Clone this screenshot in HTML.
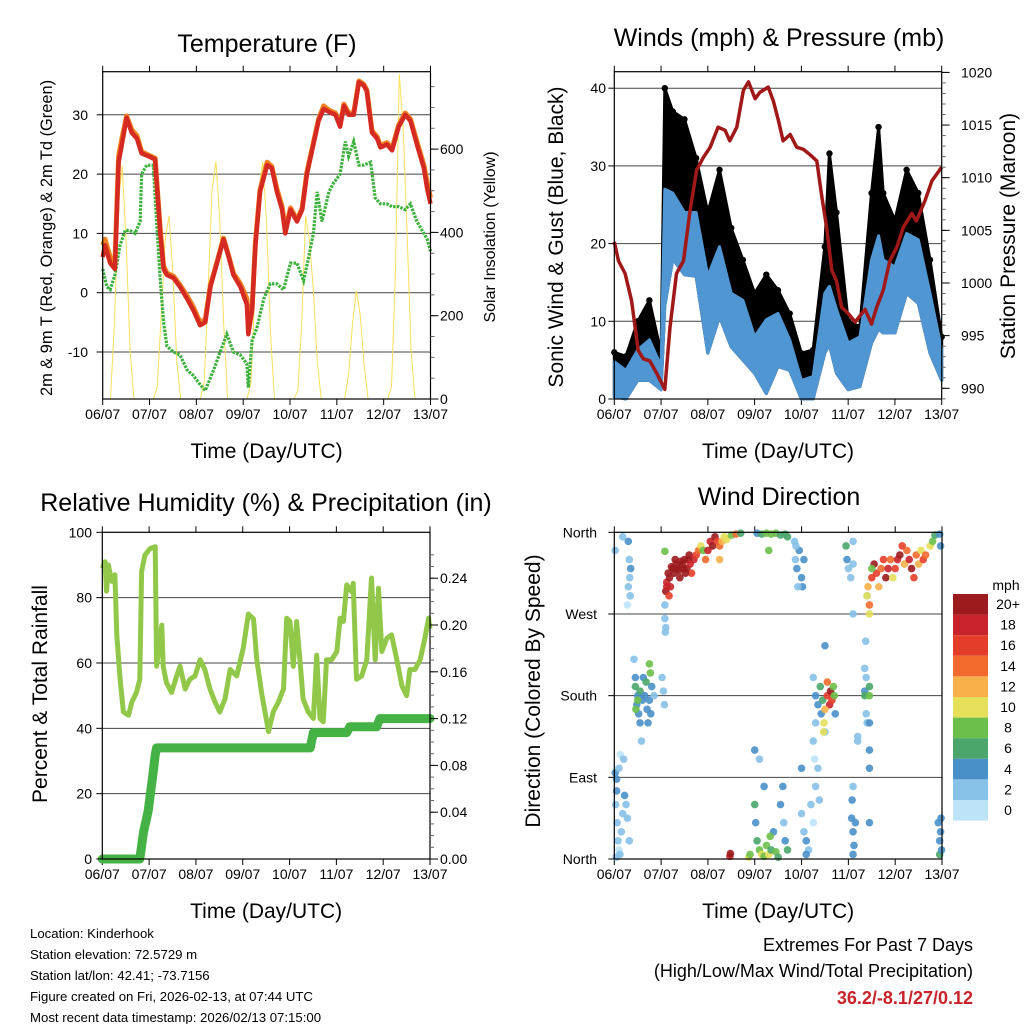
<!DOCTYPE html>
<html><head><meta charset="utf-8">
<style>
html,body{margin:0;padding:0;background:#fff;}
svg text{font-family:"Liberation Sans",Arial,sans-serif;fill:#000;}
</style></head>
<body>
<svg id="chart" width="1024" height="1024" viewBox="0 0 1024 1024" xmlns="http://www.w3.org/2000/svg">
<rect x="0" y="0" width="1024" height="1024" fill="#fff"/>
<text x="267" y="52" font-size="25" text-anchor="middle">Temperature (F)</text>
<text x="779" y="46" font-size="25" text-anchor="middle">Winds (mph) &amp; Pressure (mb)</text>
<text x="266" y="511" font-size="25" text-anchor="middle">Relative Humidity (%) &amp; Precipitation (in)</text>
<text x="779" y="505" font-size="25" text-anchor="middle">Wind Direction</text>
<g id="layer"></g>
<g font-size="13.2">
<text x="30" y="938">Location: Kinderhook</text>
<text x="30" y="959">Station elevation: 72.5729 m</text>
<text x="30" y="980">Station lat/lon: 42.41; -73.7156</text>
<text x="30" y="1001">Figure created on Fri, 2026-02-13, at 07:44 UTC</text>
<text x="30" y="1022">Most recent data timestamp: 2026/02/13 07:15:00</text>
</g>
<text x="973" y="951" font-size="18" text-anchor="end">Extremes For Past 7 Days</text>
<text x="973" y="977" font-size="18" text-anchor="end">(High/Low/Max Wind/Total Precipitation)</text>
<text x="973" y="1004" font-size="18" font-weight="bold" text-anchor="end" style="fill:#c8232a">36.2/-8.1/27/0.12</text>
</svg>
<script>
// ---------- DATA ----------
const dayLabels = ["06/07","07/07","08/07","09/07","10/07","11/07","12/07","13/07"];
const tempDays = [0,.05,.16,.26,.34,.41,.51,.62,.73,.83,.98,1.12,1.23,1.30,1.37,1.51,1.65,1.80,1.94,2.08,2.19,2.30,2.44,2.58,2.69,2.79,2.94,3.08,3.11,3.19,3.26,3.36,3.51,3.61,3.72,3.83,3.90,4.01,4.15,4.26,4.36,4.50,4.61,4.72,4.83,4.97,5.07,5.15,5.25,5.36,5.47,5.57,5.64,5.75,5.86,5.93,6.07,6.18,6.32,6.46,6.57,6.71,6.86,6.93,7.0];
const temp2m = [6,8,5,4,22,25,29.5,27,26,23.5,23,22.5,10,4,3,2.5,1,-1,-3,-5.5,-5,1,5,9,6,3,1,-2,-7,-3,8,17,21.5,21,17,14,10,14,12,14,20,25,29,31,30.5,30,28,31.5,30,30,35.5,35,34,27,26,24.5,25,24,28,30,29,25,21,17.5,15];
const temp9m = [8,9,6,5,23,26,29.8,27.5,26.5,23.8,23.2,22.7,10.5,4.5,3.3,2.8,1.3,-0.5,-2.5,-5,-4.5,1.3,5.2,9.2,6.2,3.3,1.5,-1,-5,-2.5,8.5,17.3,22,21.3,17.5,14.5,10.5,14.3,12.3,14.3,20.3,25.3,29.3,31.5,30.8,30.3,28.3,31.8,30.3,30.3,35.7,35.2,34.2,27.3,26.3,24.8,25.3,24.3,28.3,30.3,29.3,25.5,21.5,18.5,16];
const dewDays = [0,.09,.16,.26,.37,.48,.58,.69,.80,.83,.94,1.08,1.15,1.23,1.30,1.37,1.51,1.65,1.80,1.94,2.08,2.19,2.37,2.51,2.65,2.79,2.94,3.08,3.11,3.19,3.29,3.44,3.58,3.72,3.86,4.01,4.15,4.29,4.40,4.50,4.58,4.68,4.83,4.93,5.07,5.18,5.25,5.36,5.47,5.57,5.72,5.82,5.93,6.07,6.18,6.32,6.46,6.57,6.71,6.86,6.93,7.0];
const dew2m = [4,1,0.5,3,8,10.5,10.5,10,12,20,21.5,21.5,12,2,-5,-9,-10,-10.5,-13,-14,-15.5,-16.5,-13,-10,-7,-10,-10.5,-12,-16,-8,-6,-1,1.5,1.5,0.5,5,5,2,6,10,17,12,17,18.5,20,25.5,23,25.5,21.5,21.5,22,16,15,15,14.5,14.5,14,15,12,10,9,7];
// solar insolation, every 2 hours from 06/07 00Z
const solar = [0,0,0,180,470,560,380,120,0,0,0,0,
  0,0,30,200,380,440,300,90,0,0,0,0,
  0,0,40,260,500,570,430,180,0,0,0,0,
  0,0,40,260,500,570,420,160,0,0,0,0,
  0,0,20,180,440,380,260,90,0,0,0,0,
  0,0,0,60,180,260,200,80,0,0,0,0,
  0,0,30,300,780,650,400,120,0,0,0,0,0];
const windDays = [0,.25,.5,.75,1.0,1.08,1.25,1.5,1.75,2.0,2.25,2.5,2.75,3.0,3.25,3.5,3.75,4.0,4.25,4.5,4.6,4.75,5.0,5.25,5.5,5.65,5.75,6.0,6.25,6.5,6.75,7.0];
const windHi = [4.8,3.7,6.3,7.6,4.2,27,26.5,24,24,15.8,19.6,13.6,12.7,8,10.2,11,7.6,2.4,2.9,13.6,14.5,11.5,7.2,8,17.9,21,17.9,17,21.3,20.5,13.6,6.3];
const windLo = [0.3,0,2.4,2.4,1.2,12,18,16,15.8,5.9,10.6,6.7,5,3.3,0.7,4.2,3.7,0,0,5.9,7,3.3,1.2,1.6,7.2,9,8.5,8.5,13.6,12.3,5.9,2.4];
const gustHi = [6,5.5,10,12.7,5.9,40,37,36,31,24,29.5,22,17.9,13.6,16,14,11,5.9,6.3,19.6,31.6,24,10,9.3,26.5,35,26.5,23,29.5,26.5,17.9,8];
const presDays = [0,.09,.23,.37,.51,.62,.76,.91,1.08,1.19,1.33,1.48,1.62,1.76,1.90,2.05,2.22,2.37,2.47,2.62,2.76,2.87,3.01,3.11,3.29,3.40,3.51,3.61,3.76,3.90,4.04,4.18,4.33,4.43,4.54,4.65,4.75,4.86,5.00,5.15,5.36,5.50,5.61,5.75,5.89,6.04,6.18,6.36,6.46,6.64,6.79,7.0];
const pressure = [1003.9,1002.1,1000.9,998.3,993.6,992.8,992.6,991.4,989.9,995.8,1000.9,1002.1,1006.9,1010.7,1011.9,1012.9,1014.8,1014.5,1013.5,1014.8,1018.3,1019.1,1017.5,1018.1,1018.6,1017.3,1015.4,1013.5,1014.1,1012.9,1012.7,1012.2,1011.6,1008.4,1005.3,1001.2,1000.2,997.7,997.1,996.3,997.5,996.1,997.7,999.3,1002.1,1003.4,1005.3,1006.6,1005.9,1007.8,1009.7,1011.0];
const rhDays = [0,.06,.09,.13,.2,.27,.31,.38,.45,.56,.63,.73,.80,.84,.91,1.02,1.13,1.16,1.27,1.30,1.37,1.48,1.59,1.66,1.77,1.87,1.98,2.09,2.19,2.30,2.41,2.51,2.62,2.73,2.87,3.01,3.12,3.23,3.30,3.40,3.55,3.65,3.76,3.87,3.94,4.01,4.08,4.15,4.22,4.29,4.40,4.51,4.58,4.65,4.72,4.79,4.90,5.01,5.08,5.15,5.22,5.33,5.36,5.43,5.54,5.65,5.75,5.83,5.90,5.97,6.08,6.18,6.29,6.40,6.50,6.57,6.68,6.79,6.89,6.97,7.0];
const rh = [89,91,82,90,85,87,68.6,55,45,44,48,51,55,88,93,95,95.6,59,71.6,59,54,51,56,59,52,55,56,61,58,52,48,45,49,58,56,64.5,75,73.5,61,51,39,45,48,52,73.7,72.7,59,72.7,61,49,45,43,62.4,43,42,61,61,63.5,73.7,72.7,83.9,81.8,84.4,55,56,61,86,61,82.9,63.5,67.6,68.6,61,53,50,58,58,61,67.6,73.7,70.5];
const rainDays = [0,.80,.88,.98,1.09,1.13,1.16,4.44,4.51,5.22,5.29,5.86,5.93,7.0];
const rain = [0,0,.023,.041,.075,.089,.095,.095,.108,.108,.113,.113,.12,.12];
const dirDays = [0.02,0.05,0.03,0.06,0.08,0.1,0.04,0.12,0.15,0.18,0.22,0.25,0.28,0.32,0.1,0.13,0.2,0.05,
 0.02,0.18,0.3,0.32,0.33,0.3,0.28,0.35,0.34,
 0.45,0.5,0.48,0.55,0.6,0.65,0.7,0.75,0.8,0.85,0.78,0.72,0.52,0.55,0.58,0.62,0.68,0.75,0.77,0.42,0.45,1.02,1.05,1.07,0.46,0.5,
 1.08,1.08,1.09,1.1,1.08,
 1.1,1.12,1.15,1.2,1.25,1.3,1.35,1.4,1.45,1.5,1.55,1.6,1.7,1.75,1.8,1.85,1.9,2.0,2.05,2.1,2.15,2.2,2.25,2.3,2.35,2.4,2.5,2.6,2.7,1.95,2.25,1.65,
 1.18,1.22,1.28,1.32,1.38,1.42,1.48,1.52,1.58,1.62,1.12,1.17,
 3.05,3.15,3.25,3.35,3.45,3.55,3.65,3.7,3.3,
 3.85,3.87,3.9,3.95,4.0,4.02,3.92,3.88,4.05,
 2.87,2.9,3.0,3.02,3.05,3.1,3.15,3.2,3.25,3.3,3.35,3.4,3.45,3.5,3.55,3.6,3.62,3.65,3.1,3.2,3.0,3.7,3.33,2.47,2.48,
 4.0,4.05,4.1,4.15,4.2,4.25,4.3,4.35,4.38,4.0,4.1,
 4.25,4.3,4.35,4.4,4.45,4.42,4.5,4.3,4.25,4.28,4.55,4.6,4.62,4.65,4.5,4.48,4.47,4.55,4.68,4.7,4.72,4.5,
 4.95,4.97,5.0,5.05,5.1,5.1,5.1,5.4,5.37,5.35,5.38,5.35,5.38,5.4,5.35,5.45,5.45,5.45,5.45,5.45,5.08,5.07,5.1,5.12,5.15,5.1,5.1,5.45,5.2,5.2,
 5.4,5.42,5.45,5.5,5.55,5.6,5.65,5.7,5.75,5.8,5.85,5.9,6.0,6.05,6.1,6.15,6.2,6.25,6.3,6.35,6.4,6.45,6.5,6.55,6.6,6.65,6.75,6.8,6.85,5.95,5.5,5.45,
 6.92,6.95,6.97,6.95,6.99,6.98,6.95,6.97];
const dirDeg = [95,88,60,40,20,10,2,5,30,50,70,60,45,20,100,115,110,75,
 340,355,350,330,310,300,280,320,290,
 190,180,170,185,175,180,165,175,190,180,160,150,160,150,130,200,195,215,205,220,200,200,185,170,165,175,
 280,265,250,255,339,
 295,305,315,300,320,330,320,310,325,330,320,335,330,335,340,345,340,340,350,345,355,350,345,350,355,352,357,358,359,330,330,315,
 310,322,315,325,318,328,320,315,330,325,300,290,
 359,358,359,358,359,357,358,355,340,
 350,330,320,340,310,300,300,345,330,
 2,5,60,40,20,10,5,3,15,5,10,30,8,2,60,80,40,20,110,80,120,10,25,3,6,
 50,30,20,10,60,40,80,100,65,100,5,
 200,180,170,190,175,160,140,150,130,110,180,170,185,175,165,150,140,195,190,180,160,235,
 345,330,320,310,325,350,270,290,240,210,200,185,160,150,180,190,180,150,120,100,65,45,30,15,40,5,80,40,135,130,
 290,300,280,310,325,315,300,320,330,310,320,330,320,330,335,345,325,340,330,320,310,335,325,340,330,335,345,350,357,310,320,270,
 40,20,30,5,10,45,358,345];
const dirSpd = [3,3,2,1,1,0,2,1,2,1,3,2,1,2,1,0,2,4,
 1,2,3,2,2,1,0,3,1,
 5,4,4,6,4,3,4,3,3,2,4,3,4,3,2,3,6,7,7,1,3,2,1,2,7,7,
 2,1,2,1,7,
 20,18,20,18,20,20,20,20,20,20,20,20,18,16,14,10,8,18,18,20,20,16,14,12,10,10,8,14,6,14,12,16,
 20,20,20,20,20,20,20,20,20,18,18,16,
 4,6,7,8,7,6,5,6,7,
 2,2,3,3,4,3,1,2,4,
 10,8,6,4,6,8,10,8,8,10,6,4,8,6,4,4,2,4,2,3,4,6,7,18,20,
 2,1,3,2,1,0,1,1,2,4,4,
 1,3,4,5,6,4,1,1,1,0,16,18,20,16,12,10,10,14,8,8,4,3,
 5,3,2,2,2,1,1,1,2,2,1,3,2,1,6,6,7,4,4,4,4,4,4,4,4,4,1,4,1,2,
 10,12,14,16,20,16,12,14,16,20,18,14,16,18,20,16,12,14,18,20,16,14,12,10,16,14,10,8,6,10,8,10,
 4,4,3,5,4,4,3,4];
const speedBins = ["0","2","4","6","8","10","12","14","16","18","20+"];
const speedColors = ["#bde3f7","#87c1e8","#4a90c8","#4aa66a","#6cbf4a","#e5df5a","#f9b04a","#f26a2e","#e43e2a","#c8232a","#9b1b1e"];

// ---------- HELPERS ----------
const NS = "http://www.w3.org/2000/svg";
const layer = document.getElementById("layer");
function mk(tag, attrs, name, parent) {
  const el = document.createElementNS(NS, tag);
  for (const k in attrs) el.setAttribute(k, attrs[k]);
  
  
  (parent || layer).appendChild(el);
  return el;
}
function txt(x, y, s, size, anchor, name, extra) {
  const t = mk("text", Object.assign({x:x, y:y, "font-size":size, "text-anchor":anchor}, extra || {}), name);
  t.textContent = s;
  return t;
}
function pathFrom(xs, ys, fx, fy) {
  let d = "";
  for (let i = 0; i < xs.length; i++) d += (i ? "L" : "M") + fx(xs[i]).toFixed(1) + "," + fy(ys[i]).toFixed(1);
  return d;
}
function bandPath(xs, hi, lo, fx, fy) {
  let d = pathFrom(xs, hi, fx, fy);
  for (let i = xs.length - 1; i >= 0; i--) d += "L" + fx(xs[i]).toFixed(1) + "," + fy(lo[i]).toFixed(1);
  return d + "Z";
}
function xAxis(P, prefix) {
  const fx = d => P.x0 + d / 7 * (P.x1 - P.x0);
  for (let i = 0; i < dayLabels.length; i++) {
    const x = fx(i);
    mk("line", {x1:x, x2:x, y1:P.y1, y2:P.y1 + 6, stroke:"#000", "stroke-width":1}, prefix + "-x-tick");
    mk("line", {x1:x, x2:x, y1:P.y0, y2:P.y0 - 6, stroke:"#000", "stroke-width":1}, prefix + "-x-tick-top");
    txt(x, P.y1 + 20, dayLabels[i], 14, "middle", prefix + "-x-tick-label");
  }
  txt((P.x0 + P.x1) / 2, P.y1 + 59, "Time (Day/UTC)", 21, "middle", prefix + "-x-axis-title");
  return fx;
}
function frame(P, prefix) {
  mk("rect", {x:P.x0, y:P.y0, width:P.x1 - P.x0, height:P.y1 - P.y0, fill:"none", stroke:"#000", "stroke-width":1.2}, prefix + "-frame");
}
function grid(P, ys, prefix) {
  ys.forEach(y => mk("line", {x1:P.x0, x2:P.x1, y1:y, y2:y, stroke:"#444", "stroke-width":1}, prefix + "-gridline"));
}
function leftTicks(P, vals, labels, fy, prefix, lx) {
  vals.forEach((v, i) => {
    const y = fy(v);
    mk("line", {x1:P.x0 - 6, x2:P.x0, y1:y, y2:y, stroke:"#000"}, prefix + "-y-tick");
    txt(lx, y + 5, labels[i], 14, "end", prefix + "-y-tick-label");
  });
}
function rightTicks(P, vals, labels, fy, prefix, lx, minor) {
  minor.forEach(v => { const y = fy(v); if (y >= P.y0 - 0.5 && y <= P.y1 + 0.5) mk("line", {x1:P.x1, x2:P.x1 + 4, y1:y, y2:y, stroke:"#666"}, prefix + "-right-minor-tick"); });
  vals.forEach((v, i) => {
    const y = fy(v);
    mk("line", {x1:P.x1, x2:P.x1 + 8, y1:y, y2:y, stroke:"#000"}, prefix + "-right-tick");
    txt(lx, y + 5, labels[i], 14, "start", prefix + "-right-tick-label");
  });
}
function vtitle(x, y, s, size, name, rot) {
  txt(x, y, s, size, "middle", name, {transform:"rotate(" + rot + " " + x + " " + y + ")"});
}

// ---------- PANEL 1: TEMPERATURE ----------
(function () {
  const P = {x0:102.7, x1:430.5, y0:71.7, y1:399};
  const fy = v => 292.7 - v * 5.93;
  const fs = s => 399 - s * 0.4165;
  grid(P, [30,20,10,0,-10].map(fy), "temp");
  const fx = xAxis(P, "temp");
  const solarDays = solar.map((_, i) => i / 12);
  mk("path", {d:pathFrom(solarDays, solar, fx, fs), fill:"none", stroke:"#f7e05a", "stroke-width":1}, "solar-insolation-line");
  mk("path", {d:pathFrom(dewDays, dew2m, fx, fy), fill:"none", stroke:"#3bb13b", "stroke-width":3.2, "stroke-dasharray":"2.5 1.2"}, "dewpoint-2m-line");
  mk("path", {d:pathFrom(tempDays, temp9m, fx, fy), fill:"none", stroke:"#f08020", "stroke-width":5, "stroke-linejoin":"round"}, "temp-9m-line");
  mk("path", {d:pathFrom(tempDays, temp2m, fx, fy), fill:"none", stroke:"#d42a22", "stroke-width":4.5, "stroke-linejoin":"round"}, "temp-2m-line");
  frame(P, "temp");
  leftTicks(P, [30,20,10,0,-10], ["30","20","10","0","-10"], fy, "temp", 88);
  const minor = []; for (let s = 0; s <= 800; s += 50) minor.push(s);
  rightTicks(P, [0,200,400,600], ["0","200","400","600"], fs, "solar", 440, minor);
  vtitle(52, 238, "2m & 9m T (Red, Orange) & 2m Td (Green)", 16.4, "temp-y-axis-title", -90);
  vtitle(495, 237, "Solar Insolation (Yellow)", 16, "solar-y-axis-title", -90);
})();

// ---------- PANEL 2: WINDS ----------
(function () {
  const P = {x0:614.3, x1:941.7, y0:71.7, y1:399};
  const fy = w => 399 - w * 7.77;
  const fp = p => 388.3 - (p - 990) * 10.53;
  grid(P, [10,20,30,40].map(fy), "wind");
  const fx = xAxis(P, "wind");
  mk("path", {d:bandPath(windDays, gustHi, windLo, fx, fy), fill:"#000", stroke:"#000", "stroke-width":3, "stroke-linejoin":"round"}, "gust-band");
  windDays.forEach((t, i) => {
    const c = mk("circle", {cx:fx(t), cy:fy(gustHi[i]), r:3.2, fill:"#000"}, "gust-point");
  });
  mk("path", {d:bandPath(windDays, windHi, windLo, fx, fy), fill:"#4f96d2", stroke:"#4f96d2", "stroke-width":3, "stroke-linejoin":"round"}, "sonic-wind-band");
  mk("path", {d:pathFrom(presDays, pressure, fx, fp), fill:"none", stroke:"#a01818", "stroke-width":3.5, "stroke-linejoin":"round"}, "pressure-line");
  frame(P, "wind");
  leftTicks(P, [0,10,20,30,40], ["0","10","20","30","40"], fy, "wind", 606);
  const minor = []; for (let p = 989; p <= 1020; p++) minor.push(p);
  rightTicks(P, [990,995,1000,1005,1010,1015,1020], ["990","995","1000","1005","1010","1015","1020"], fp, "pressure", 961, minor);
  vtitle(563, 237, "Sonic Wind & Gust (Blue, Black)", 21, "wind-y-axis-title", -90);
  vtitle(1015, 236, "Station Pressure (Maroon)", 21, "pressure-y-axis-title", -90);
})();

// ---------- PANEL 3: HUMIDITY ----------
(function () {
  const P = {x0:102.3, x1:430, y0:532.3, y1:859};
  const fy = r => 859 - r * 3.267;
  const fr = r => 859 - r / 0.04 * 46.8;
  grid(P, [20,40,60,80].map(fy), "rh");
  const fx = xAxis(P, "rh");
  mk("path", {d:pathFrom(rhDays, rh, fx, fy), fill:"none", stroke:"#92c84a", "stroke-width":5, "stroke-linejoin":"round"}, "relative-humidity-line");
  mk("path", {d:pathFrom(rainDays, rain, fx, fr), fill:"none", stroke:"#44b244", "stroke-width":9, "stroke-linejoin":"round", "stroke-linecap":"round"}, "precipitation-line");
  frame(P, "rh");
  leftTicks(P, [0,20,40,60,80,100], ["0","20","40","60","80","100"], fy, "rh", 92);
  const minor = []; for (let r = 0; r <= 0.27; r += 0.01) minor.push(r);
  rightTicks(P, [0,.04,.08,.12,.16,.20,.24], ["0.00","0.04","0.08","0.12","0.16","0.20","0.24"], fr, "rain", 440, minor);
  vtitle(47, 694, "Percent & Total Rainfall", 21, "rh-y-axis-title", -90);
})();

// ---------- PANEL 4: WIND DIRECTION ----------
(function () {
  const P = {x0:614.3, x1:942, y0:532.3, y1:859};
  const fy = d => 859 - d / 360 * 326.7;
  grid(P, [90,180,270].map(fy), "dir");
  const fx = xAxis(P, "dir");
  dirDays.forEach((t, i) => {
    const k = Math.min(10, Math.round(dirSpd[i] / 2));
    const c = mk("circle", {cx:fx(t), cy:fy(dirDeg[i]), r:3.8, fill:speedColors[k], "fill-opacity":0.9}, "direction-point");
  });
  frame(P, "dir");
  leftTicks(P, [0,90,180,270,360], ["North","East","South","West","North"], fy, "dir", 597);
  vtitle(540, 691, "Direction (Colored By Speed)", 21, "dir-y-axis-title", -90);
  // colorbar
  txt(1006, 590, "mph", 14, "middle", "colorbar-title");
  const top = 594, h = 20.6;
  for (let i = 0; i < speedColors.length; i++) {
    const j = speedColors.length - 1 - i;
    mk("rect", {x:953, y:top + i * h, width:35, height:h, fill:speedColors[j]}, "colorbar-box");
    txt(1008, top + i * h + 15, speedBins[j], 14, "middle", "colorbar-label");
  }
})();
</script>
</body></html>
